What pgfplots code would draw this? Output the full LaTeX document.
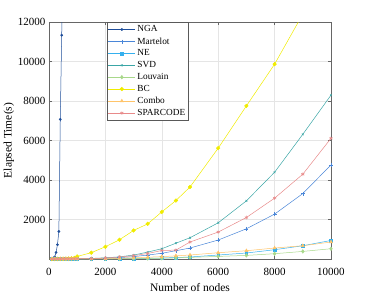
\documentclass[border=0pt]{standalone}
\usepackage{fontspec}
\setmainfont{Liberation Serif}
\usepackage{pgfplots}
\usepackage{pgfplotstable}
\pgfplotsset{compat=1.18}
\definecolor{cNGA}{HTML}{1F4E9A}
\definecolor{cMar}{HTML}{4A86D8}
\definecolor{cNE}{HTML}{35B0EE}
\definecolor{cSVD}{HTML}{3AA6A6}
\definecolor{cLou}{HTML}{A8D88A}
\definecolor{cBC}{HTML}{F0EC00}
\definecolor{cCom}{HTML}{FFC46A}
\definecolor{cSpa}{HTML}{E88A8A}
\pgfplotstableread{
x NE Mar SVD Lou BC Com Spa
100 1 1 1 0.5 1 1 2
200 1 2 2 1 3 2 4
300 2 3 3 1 5 3 6
400 2 4 4 1.5 8 4 8
500 3 5 5 2 12 5 10
600 3 6 6 2 18 6 12
700 4 7 8 2.5 26 7 14
800 5 8 9 3 36 8 16
900 5 9 10 3 50 9 18
1000 6 10 12 4 130 10 20
1500 6 15 30 5 320 10 20
2000 10 35 60 8 620 20 50
2500 15 70 110 12 975 40 100
3000 25 120 200 18 1445 60 170
3500 35 200 350 25 1780 90 280
4000 50 290 520 35 2385 120 430
4500 75 420 800 55 2960 160 450
5000 101 556 1076 81 3645 202 860
6000 202 960 1833 131 5613 318 1364
7000 303 1530 2944 182 7750 419 2101
8000 470 2273 4394 268 9866 556 3081
9000 672 3313 6313 384 12400 672 4293
10000 939 4763 8298 520 15200 859 6111
}\data
\pgfplotstableread{
x y
100 20
150 50
200 100
250 333
300 722
350 1394
400 7070
450 11330
500 15500
}\nga
\begin{document}
\begin{tikzpicture}
\useasboundingbox (-49pt,-36pt) rectangle (316pt,259pt);
\begin{axis}[
  at={(0,0)}, anchor=south west,
  scale only axis, width=282pt, height=237pt,
  xmin=0, xmax=10000, ymin=0, ymax=12000,
  xtick={0,2000,...,10000}, ytick={2000,4000,...,12000},
  scaled ticks=false,
  /pgf/number format/assume math mode=true,
  /pgf/number format/1000 sep={},
  tick label style={font=\fontsize{11}{13}\selectfont},
  xticklabel style={yshift=-6pt},
  label style={font=\fontsize{11.5}{13}\selectfont},
  xlabel={Number of nodes}, ylabel={Elapsed Time(s)},
  xlabel style={yshift=-1pt}, ylabel style={yshift=-3pt},
  grid=major, major grid style={gray!20, line width=0.4pt},
  axis line style={gray!80!black, line width=0.5pt},
  tick align=inside, tick style={gray!80!black, line width=0.4pt},
  major tick length=3pt,
  clip=true,
  legend style={at={(0.204,1)}, anchor=north west, draw=gray!70!black,
    font=\fontsize{9.3}{11}\selectfont, row sep=0.2pt, inner sep=1.5pt,
    cells={anchor=west}},
  legend image code/.code={
    \draw[mark repeat=2,mark phase=2] plot coordinates {(0cm,0cm) (0.47cm,0cm) (0.94cm,0cm)};
  },
  every axis plot/.append style={line width=0.5pt},
]
\addplot[cNGA, mark=*, mark size=1.1pt] table[x=x,y=y]{\nga};
\addlegendentry{NGA}
\addplot[cMar, mark=+, mark size=2pt] table[x=x,y=Mar]{\data};
\addlegendentry{Martelot}
\addplot[cNE, mark=square*, mark size=1.3pt] table[x=x,y=NE]{\data};
\addlegendentry{NE}
\addplot[cSVD, mark=x, mark size=1.3pt] table[x=x,y=SVD]{\data};
\addlegendentry{SVD}
\addplot[cLou, mark=diamond*, mark size=1.8pt] table[x=x,y=Lou]{\data};
\addlegendentry{Louvain}
\addplot[cBC, mark=*, mark size=1.8pt] table[x=x,y=BC]{\data};
\addlegendentry{BC}
\addplot[cCom, mark=triangle*, mark size=1.8pt] table[x=x,y=Com]{\data};
\addlegendentry{Combo}
\addplot[cSpa, mark=asterisk, mark size=1.8pt] table[x=x,y=Spa]{\data};
\addlegendentry{SPARCODE}
\end{axis}
\end{tikzpicture}
\end{document}
